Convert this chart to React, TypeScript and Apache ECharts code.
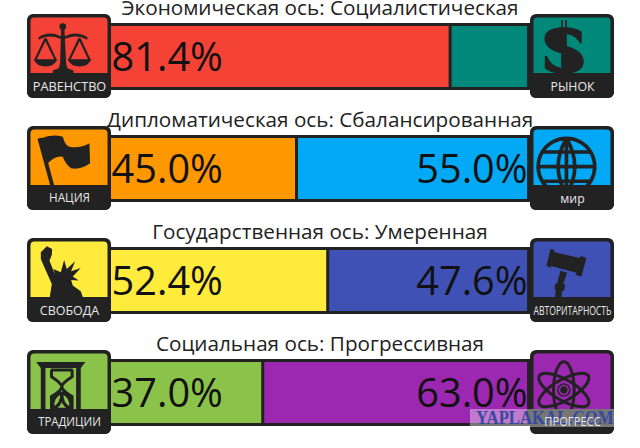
import React, { useEffect, useRef } from "react";
import * as echarts from "echarts";

const titles = [
  "Экономическая ось: Социалистическая",
  "Дипломатическая ось: Сбалансированная",
  "Государственная ось: Умеренная",
  "Социальная ось: Прогрессивная",
];
const leftValues = [81.4, 45.0, 52.4, 37.0];
const rightValues = [18.6, 55.0, 47.6, 63.0];
const rightLabelShown = [false, true, true, true];
const leftColors = ["#f44336", "#ff9800", "#ffeb3b", "#8bc34a"];
const rightColors = ["#00897b", "#03a9f4", "#3f51b5", "#9c27b0"];
const leftNames = ["РАВЕНСТВО", "НАЦИЯ", "СВОБОДА", "ТРАДИЦИИ"];
const rightNames = ["РЫНОК", "мир", "АВТОРИТАРНОСТЬ", "ПРОГРЕСС"];
const leftNameScale = [0.98, 0.9, 0.96, 0.88];
const rightNameScale = [0.95, 0.95, 0.66, 0.86];
const watermark = "YAPLAKAL.COM";

const DARK = "#222222";

// icon outlines, in the 3x crop coordinates of one badge
const icons: Record<string, { fill?: string; stroke?: string }> = {
  scales: {
    fill:
      "M118,40 A10,10 0 1 1 118,60 A10,10 0 1 1 118,40Z M113,58 L123,58 L128,160 L132,175 L150,182 L150,190 L88,190 L88,182 L106,175 L110,160Z " +
      "M45,82 Q75,62 110,78 L126,78 Q160,62 192,82 L192,89 Q160,72 126,86 L110,86 Q75,72 45,89Z " +
      "M30,148 L102,148 Q92,170 66,170 Q40,170 30,148Z M132,148 L204,148 Q194,170 168,170 Q142,170 132,148Z " +
      "M63,84 L69,84 L99,148 L92,148 L66,94 L40,148 L33,148Z M165,84 L171,84 L201,148 L194,148 L168,94 L142,148 L135,148Z",
  },
  flag: {
    fill:
      "M53,49 Q85,35 118,44 Q125,70 138,74 Q170,80 198,64 L200,124 Q170,145 143,139 Q125,125 118,104 Q95,100 73,124 Q55,90 53,49Z " +
      "M42,50 L54,47 L92,190 L80,190Z",
  },
  dollar: {
    fill:
      "M104,30 L109,30 L109,52 L116,52 L116,30 L121,30 L121,52 Q150,54 166,66 L166,100 L160,100 Q150,78 121,72 L121,108 Q172,122 172,156 Q172,186 121,192 L121,220 L116,220 L116,192 L109,192 L109,220 L104,220 L104,192 Q75,190 55,176 L55,138 L62,138 Q72,168 104,174 L104,130 Q54,116 54,86 Q54,56 104,52Z",
  },
  globe: {
    stroke:
      "M120,49 A85,85 0 1 1 119.9,49Z M120,49 Q70,134 120,219 M120,49 Q170,134 120,219 M120,49 L120,219 M35,134 L205,134 M50,90 L190,90 M50,178 L190,178",
  },
  statue: {
    fill:
      "M52,55 L70,37 L86,45 L85,62 L78,80 L95,122 L90,105 L112,115 L122,78 L130,105 L155,82 L143,112 L172,102 L148,128 L166,140 L143,138 L148,155 L172,172 L180,195 L78,195 L85,150 L62,98 L52,75Z",
  },
  gavel: {
    fill:
      "M72,45 L84,48 L82,54 L160,72 L162,66 L180,72 L165,128 L148,123 L150,116 L74,96 L72,102 L60,95Z M102,110 L122,116 L110,150 L116,152 L113,170 L107,172 L102,215 L82,215 L88,170 L84,165 L86,150 L92,148Z",
  },
  hourglassFrame: {
    fill:
      "M38,48 L186,48 L172,66 L172,195 L158,195 L158,66 L66,66 L66,195 L52,195 L52,66Z",
  },
  hourglassGlass: {
    stroke:
      "M82,72 L148,72 M84,72 L84,92 Q115,112 115,122 Q115,132 84,152 L84,190 L146,190 L146,152 Q115,132 115,122 Q115,112 146,92 L146,72 " +
      "M115,140 Q85,150 88,186 Q115,182 115,140 Q115,182 142,186 Q145,150 115,140",
  },
};
Object.keys(icons).forEach((k) => {
  const def = icons[k];
  echarts.graphic.registerShape(k, echarts.graphic.extendPath((def.fill || def.stroke) as string, {}) as any);
});

function badge(bx: number, by: number, color: string, parts: any[], name: string, sx: number) {
  const iz = 100;
  const out: any[] = [
    { type: "rect", x: bx, y: by, z: iz, shape: { x: 0, y: 0, width: 84, height: 84, r: 6 }, style: { fill: DARK } },
    { type: "rect", x: bx, y: by, z: iz + 1, shape: { x: 3.5, y: 3.5, width: 77, height: 60, r: [4, 4, 0, 0] }, style: { fill: color } },
  ];
  const ox = bx - 3.5;
  const oy = by - 4;
  parts.forEach((p) => {
    if (p.ellipse) {
      out.push({
        type: "ellipse",
        x: ox + p.ellipse[0] / 3,
        y: oy + p.ellipse[1] / 3,
        rotation: p.rot || 0,
        z: iz + 2,
        shape: { cx: 0, cy: 0, rx: p.ellipse[2] / 3, ry: p.ellipse[3] / 3 },
        style: p.solid ? { fill: DARK } : { fill: "none", stroke: DARK, lineWidth: p.lw || 3 },
      });
    } else {
      const def = icons[p.name];
      out.push({
        type: p.name,
        x: ox,
        y: oy,
        scaleX: 1 / 3,
        scaleY: 1 / 3,
        z: iz + 2,
        style: def.fill ? { fill: DARK } : { fill: "none", stroke: DARK, lineWidth: p.lw || 10 },
      });
    }
  });
  out.push({ type: "rect", x: bx, y: by, z: iz + 3, shape: { x: 0, y: 59, width: 84, height: 25, r: [0, 0, 6, 6] }, style: { fill: DARK } });
  out.push({
    type: "text",
    x: bx + 42.5,
    y: by + 71.5,
    scaleX: sx,
    z: 130,
    style: { text: name, fill: "#e8e8e8", font: '13px "Open Sans"', textAlign: "center", textVerticalAlign: "middle" },
  });
  return out;
}

const LEFT_BADGE_X = 27;
const RIGHT_BADGE_X = 530;
const ROW_Y = [14, 126, 238, 350];
const BAR_LEFT = 106.6;
const BAR_WIDTH = 422;

const leftIcons: any[][] = [
  [{ name: "scales" }],
  [{ name: "flag" }],
  [{ name: "statue" }],
  [{ name: "hourglassFrame" }, { name: "hourglassGlass", lw: 9 }],
];
const rightIcons: any[][] = [
  [{ name: "dollar" }],
  [{ name: "globe", lw: 11 }],
  [{ name: "gavel" }],
  [
    { ellipse: [112, 132, 85, 31], rot: Math.PI / 2, lw: 3 },
    { ellipse: [112, 132, 85, 31], rot: Math.PI / 6, lw: 3 },
    { ellipse: [112, 132, 85, 31], rot: -Math.PI / 6, lw: 3 },
    { ellipse: [112, 132, 11, 11], solid: true },
    { ellipse: [112, 132, 18, 18], lw: 1.5 },
  ],
];

export default function App() {
  const ref = useRef<HTMLDivElement>(null);
  useEffect(() => {
    const chart = echarts.init(ref.current!, null, { renderer: "svg" });
    const labelStyle = {
      show: true,
      color: "#111",
      fontFamily: "Open Sans",
      fontSize: 39.7,
      offset: [0, -1],
      formatter: (p: any) => p.value.toFixed(1) + "%",
    };
    const graphics: any[] = [];
    ROW_Y.forEach((y, i) => {
      // dark frame behind the two coloured parts of the bar
      graphics.push({
        type: "rect",
        z: 0,
        shape: { x: BAR_LEFT, y: y + 9, width: BAR_WIDTH + 1.5, height: 67 },
        style: { fill: DARK },
      });
      graphics.push(...badge(LEFT_BADGE_X, y, leftColors[i], leftIcons[i], leftNames[i], leftNameScale[i]));
      graphics.push(...badge(RIGHT_BADGE_X, y, rightColors[i], rightIcons[i], rightNames[i], rightNameScale[i]));
    });
    graphics.push({
      type: "rect",
      z: 120,
      shape: { x: 470, y: 409, width: 144, height: 18 },
      style: { fill: "rgba(255,255,255,0.38)" },
    });
    graphics.push({
      type: "text",
      x: 476,
      y: 418.5,
      scaleX: 0.93,
      z: 121,
      style: {
        text: watermark,
        font: 'bold 18px "Liberation Serif"',
        textVerticalAlign: "middle",
        fill: "#37489f",
      },
    });

    chart.setOption({
      animation: false,
      backgroundColor: "#fff",
      title: titles.map((t, i) => ({
        text: t,
        left: "center",
        top: ROW_Y[i] - 18,
        padding: 0,
        textStyle: { fontFamily: "Open Sans", fontSize: 20.7, fontWeight: "normal", color: "#222" },
      })),
      grid: ROW_Y.map((y) => ({ left: BAR_LEFT, width: BAR_WIDTH, top: y + 10.5, height: 64 })),
      xAxis: ROW_Y.map((_, i) => ({ type: "value", gridIndex: i, min: 0, max: 100, show: false })),
      yAxis: ROW_Y.map((_, i) => ({ type: "category", gridIndex: i, data: [titles[i]], show: false })),
      series: ROW_Y.flatMap((_, i) => [
        {
          type: "bar",
          stack: "row" + i,
          xAxisIndex: i,
          yAxisIndex: i,
          barWidth: "100%",
          data: [leftValues[i]],
          itemStyle: { color: leftColors[i], borderColor: DARK, borderWidth: 1.5 },
          label: { ...labelStyle, position: "insideLeft", distance: 5 },
        },
        {
          type: "bar",
          stack: "row" + i,
          xAxisIndex: i,
          yAxisIndex: i,
          barWidth: "100%",
          data: [rightValues[i]],
          itemStyle: { color: rightColors[i], borderColor: DARK, borderWidth: 1.5 },
          label: { ...labelStyle, position: "insideRight", distance: 1, show: rightLabelShown[i] },
        },
      ]),
      graphic: { elements: graphics },
    });
    return () => chart.dispose();
  }, []);
  return <div ref={ref} style={{ position: "fixed", left: 0, top: 0, width: 640, height: 448 }} />;
}
